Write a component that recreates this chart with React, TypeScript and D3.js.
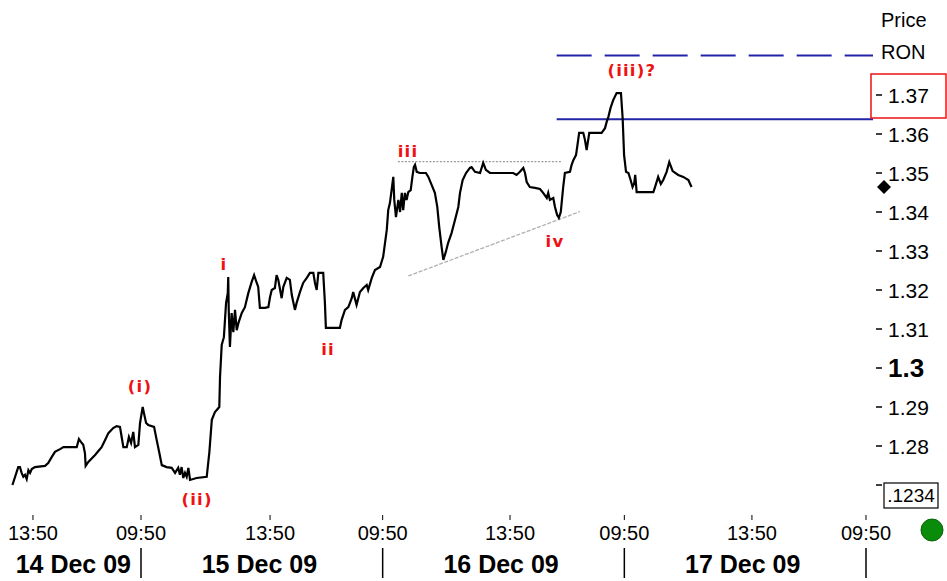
import React from 'react';
import * as d3 from 'd3';

// ---- data (time in trading days since 14 Dec 09:50 session mark, price in RON) ----
const times = [
  -0.532, -0.508, -0.501, -0.494, -0.487, -0.48, -0.473, -0.466, -0.459, -0.452,
  -0.439, -0.397, -0.384, -0.369, -0.356, -0.335, -0.321, -0.266, -0.257, -0.248,
  -0.239, -0.232, -0.229, -0.218, -0.19, -0.163, -0.149, -0.135, -0.115, -0.101,
  -0.087, -0.08, -0.073, -0.059, -0.05, -0.041, -0.032, -0.025, -0.011, -0.004,
  0.007, 0.012, 0.021, 0.03, 0.054, 0.065, 0.076, 0.086, 0.106, 0.127,
  0.141, 0.154, 0.161, 0.168, 0.175, 0.182, 0.189, 0.196, 0.203, 0.23,
  0.272, 0.283, 0.293, 0.306, 0.324, 0.327, 0.334, 0.343, 0.352, 0.359,
  0.361, 0.363, 0.368, 0.375, 0.382, 0.389, 0.396, 0.403, 0.417, 0.43,
  0.444, 0.458, 0.468, 0.479, 0.485, 0.492, 0.513, 0.527, 0.534, 0.541,
  0.554, 0.561, 0.568, 0.582, 0.589, 0.603, 0.616, 0.624, 0.637, 0.644,
  0.658, 0.671, 0.686, 0.699, 0.713, 0.72, 0.727, 0.734, 0.754, 0.761,
  0.765, 0.823, 0.83, 0.844, 0.858, 0.872, 0.878, 0.892, 0.906, 0.92,
  0.934, 0.94, 0.955, 0.968, 0.989, 1.002, 1.017, 1.023, 1.03, 1.037,
  1.044, 1.048, 1.055, 1.065, 1.072, 1.079, 1.085, 1.092, 1.099, 1.106,
  1.116, 1.123, 1.129, 1.134, 1.141, 1.154, 1.179, 1.189, 1.203, 1.216,
  1.226, 1.234, 1.244, 1.251, 1.261, 1.271, 1.285, 1.299, 1.313, 1.32,
  1.331, 1.345, 1.361, 1.368, 1.382, 1.403, 1.416, 1.427, 1.444, 1.54,
  1.554, 1.568, 1.582, 1.589, 1.596, 1.609, 1.63, 1.651, 1.664, 1.679,
  1.685, 1.692, 1.706, 1.713, 1.722, 1.729, 1.737, 1.747, 1.754, 1.775,
  1.782, 1.789, 1.8, 1.805, 1.813, 1.83, 1.837, 1.844, 1.855, 1.906,
  1.92, 1.927, 1.934, 1.943, 1.954, 1.968, 1.986, 1.993, 1.999, 2.007,
  2.017, 2.026, 2.034, 2.041, 2.045, 2.051, 2.12, 2.127, 2.14, 2.151,
  2.161, 2.175, 2.186, 2.2, 2.223, 2.244, 2.265, 2.278,
];
const prices = [
  1.27, 1.2746, 1.2746, 1.2731, 1.2721, 1.2726, 1.2715, 1.2738, 1.2731, 1.2741,
  1.2746, 1.2749, 1.2756, 1.2772, 1.2785, 1.2792, 1.2797, 1.2797, 1.2818, 1.281,
  1.2803, 1.2782, 1.2749, 1.2759, 1.2777, 1.2797, 1.2815, 1.2833, 1.2846, 1.2851,
  1.2849, 1.2823, 1.2797, 1.2797, 1.2823, 1.2808, 1.2836, 1.2797, 1.2803, 1.2859,
  1.29, 1.2885, 1.2859, 1.2854, 1.2849, 1.2815, 1.2782, 1.2751, 1.2746, 1.2744,
  1.2731, 1.2744, 1.2726, 1.2746, 1.2718, 1.2731, 1.2721, 1.2744, 1.2713, 1.2718,
  1.2721, 1.2785, 1.2867, 1.2887, 1.29, 1.2977, 1.3059, 1.3079, 1.3167, 1.3192,
  1.3233, 1.3149, 1.3054, 1.3141, 1.3092, 1.3149, 1.3097, 1.3115, 1.3141, 1.3156,
  1.3192, 1.3221, 1.3238, 1.3218, 1.3208, 1.3154, 1.3154, 1.3156, 1.3182, 1.32,
  1.3205, 1.3238, 1.3226, 1.3179, 1.3208, 1.3231, 1.3226, 1.3187, 1.3149, 1.3167,
  1.3195, 1.3218, 1.3231, 1.3244, 1.3244, 1.3218, 1.32, 1.3244, 1.3244, 1.3167,
  1.3103, 1.3103, 1.3123, 1.3149, 1.3156, 1.3179, 1.3195, 1.3162, 1.3195, 1.3205,
  1.3213, 1.32, 1.3231, 1.3251, 1.3259, 1.3285, 1.3354, 1.3405, 1.3423, 1.3456,
  1.349, 1.3431, 1.3387, 1.3431, 1.34, 1.3449, 1.3405, 1.3449, 1.3431, 1.3451,
  1.3456, 1.349, 1.3515, 1.3521, 1.3503, 1.35, 1.35, 1.349, 1.3469, 1.3449,
  1.3413, 1.3362, 1.331, 1.3277, 1.3297, 1.3321, 1.3346, 1.3379, 1.3413, 1.3449,
  1.3482, 1.35, 1.3513, 1.3515, 1.3503, 1.35, 1.3526, 1.3508, 1.35, 1.35,
  1.3495, 1.3503, 1.3513, 1.35, 1.3477, 1.3464, 1.3462, 1.3459, 1.3449, 1.3436,
  1.3449, 1.3431, 1.3436, 1.3413, 1.3392, 1.3385, 1.34, 1.3464, 1.35, 1.3503,
  1.3521, 1.3533, 1.3546, 1.3567, 1.3603, 1.3603, 1.3585, 1.3559, 1.3603, 1.3603,
  1.3615, 1.3631, 1.3644, 1.3667, 1.3687, 1.3705, 1.3705, 1.3641, 1.3546, 1.3503,
  1.35, 1.3482, 1.3464, 1.3474, 1.3495, 1.3451, 1.3451, 1.3464, 1.349, 1.3472,
  1.3482, 1.3503, 1.3528, 1.3505, 1.3495, 1.349, 1.3482, 1.3464,
];

const priceTicks = [1.28, 1.29, 1.3, 1.31, 1.32, 1.33, 1.34, 1.35, 1.36, 1.37];
const boldPriceTick = 1.3;
const boxTickValue = 1.27;
const boxTickLabel = '.1234';
const axisTitle = 'Price';
const currencyLabel = 'RON';
const lastPrice = 1.3464;
const highlightedTick = 1.37;

const timeTickValues = [-0.447, 0, 0.534, 1, 1.527, 2, 2.528, 3];
const timeTickLabels = ['13:50', '09:50', '13:50', '09:50', '13:50', '09:50', '13:50', '09:50'];
const daySeparators = [0, 1, 2, 3];
const dayLabels = ['14 Dec 09', '15 Dec 09', '16 Dec 09', '17 Dec 09'];
const dayLabelTimes = [-0.28, 0.49, 1.49, 2.49];

const waveLabels = ['(i)', '(ii)', 'i', 'ii', 'iii', 'iv', '(iii)?'];
const waveLabelTimes = [-0.004, 0.232, 0.343, 0.774, 1.105, 1.713, 2.031];
const waveLabelPrices = [1.2938, 1.2649, 1.3251, 1.3033, 1.3541, 1.331, 1.3749];

const resistanceStartTime = 1.72;
const resistanceSolid = 1.3638;
const resistanceDashed = 1.3801;
const topLineTimes = [1.063, 1.742];
const topLinePrice = 1.3529;
const trendTimes = [1.106, 1.816];
const trendPrices = [1.3236, 1.3401];

export default function App() {
  const W = 947;
  const H = 581;
  const plotRight = 873;
  const x = d3.scaleLinear().domain([0, 3]).range([141, 866]);
  const y = d3.scaleLinear().domain([1.28, 1.37]).range([446, 95]);

  const pts: [number, number][] = times.map((t, i) => [t, prices[i]]);
  const line = d3
    .line<[number, number]>()
    .x((d) => x(d[0]))
    .y((d) => y(d[1]));

  const axisFont = '"Liberation Sans", Arial, sans-serif';
  const red = '#ee1111';
  const blue = '#2323a8';
  const ly = y(lastPrice);

  return (
    <svg
      width={W}
      height={H}
      style={{ position: 'absolute', left: 0, top: 0, background: '#fff' }}
      fontFamily={axisFont}
    >
      <rect x={0} y={0} width={W} height={H} fill="#fff" />

      {/* resistance lines */}
      <line x1={x(resistanceStartTime)} x2={plotRight} y1={y(resistanceDashed)} y2={y(resistanceDashed)}
        stroke={blue} strokeWidth={2} strokeDasharray="35,13" />
      <line x1={x(resistanceStartTime)} x2={plotRight} y1={y(resistanceSolid)} y2={y(resistanceSolid)}
        stroke={blue} strokeWidth={2} />

      {/* helper lines */}
      <line x1={x(topLineTimes[0])} x2={x(topLineTimes[1])} y1={y(topLinePrice)} y2={y(topLinePrice)}
        stroke="#9a9a9a" strokeWidth={1.2} strokeDasharray="2,1.5" />
      <line x1={x(trendTimes[0])} x2={x(trendTimes[1])} y1={y(trendPrices[0])} y2={y(trendPrices[1])}
        stroke="#b0b0b0" strokeWidth={1.3} strokeDasharray="4,1.5" />

      {/* price line */}
      <path d={line(pts) || ''} fill="none" stroke="#000" strokeWidth={2.2} strokeLinejoin="miter" />

      {/* wave labels */}
      {waveLabels.map((s, i) => (
        <text key={s + i} x={x(waveLabelTimes[i])} y={y(waveLabelPrices[i])} textAnchor="middle"
          fill={red} fontFamily='"DejaVu Sans", Verdana, sans-serif'
          fontWeight="bold" fontSize={16.5} letterSpacing={1.2}>
          {s}
        </text>
      ))}

      {/* right axis */}
      <text x={881} y={27} fontSize={20} fill="#000">{axisTitle}</text>
      <text x={881} y={59} fontSize={20} fill="#000">{currencyLabel}</text>
      <rect x={871} y={y(highlightedTick) - 21} width={75} height={44} fill="none" stroke={red} strokeWidth={1.5} />
      {priceTicks.map((v) => {
        const bold = Math.abs(v - boldPriceTick) < 1e-9;
        return (
          <g key={v}>
            <line x1={876} x2={882} y1={y(v)} y2={y(v)} stroke="#000" strokeWidth={1.5} />
            <text x={888} y={y(v)} dy="0.36em" fontSize={bold ? 26 : 21}
              fontWeight={bold ? 'bold' : 'normal'} fill="#000">
              {bold ? d3.format('.1f')(v) : d3.format('.2f')(v)}
            </text>
          </g>
        );
      })}
      <line x1={876} x2={882} y1={y(boxTickValue)} y2={y(boxTickValue)} stroke="#000" strokeWidth={1.5} />
      <rect x={884} y={y(boxTickValue) - 2} width={54} height={25} fill="#fff" stroke="#000" strokeWidth={1.2} />
      <text x={911} y={y(boxTickValue) + 10.5} dy="0.36em" textAnchor="middle" fontSize={19} fill="#000">
        {boxTickLabel}
      </text>
      <path d={`M884,${ly - 7}L891,${ly}L884,${ly + 7}L877,${ly}Z`} fill="#000" />

      {/* time axis */}
      {timeTickValues.map((t, i) => (
        <g key={'tt' + i}>
          <line x1={x(t)} x2={x(t)} y1={515} y2={520} stroke="#000" strokeWidth={1} />
          <text x={x(t)} y={540} textAnchor="middle" fontSize={20} fill="#000">
            {timeTickLabels[i]}
          </text>
        </g>
      ))}
      {daySeparators.map((t) => (
        <line key={'ds' + t} x1={x(t)} x2={x(t)} y1={548} y2={578} stroke="#000" strokeWidth={1.5} />
      ))}
      {dayLabels.map((s, i) => (
        <text key={s} x={x(dayLabelTimes[i])} y={573} textAnchor="middle" fontSize={25}
          fontWeight="bold" fill="#000">
          {s}
        </text>
      ))}
      <circle cx={932} cy={530} r={11} fill="#0a8c0a" stroke="#066406" strokeWidth={1} />
    </svg>
  );
}
